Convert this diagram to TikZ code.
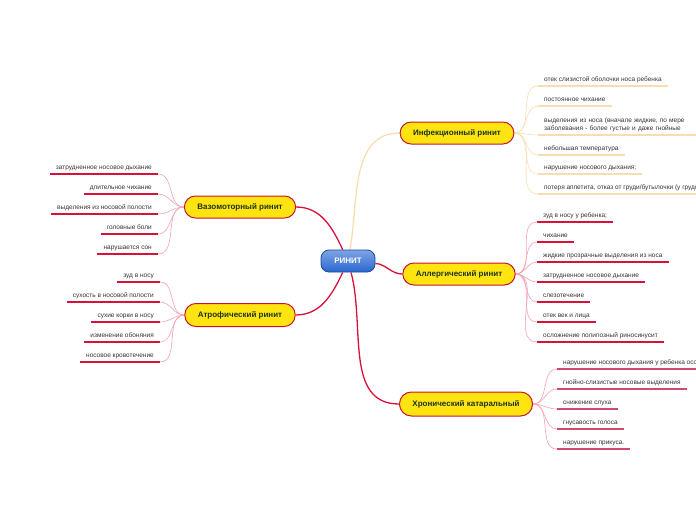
\documentclass[tikz,border=0pt]{standalone}
\usepackage{fontspec}
\setmainfont{Liberation Sans}
\usetikzlibrary{positioning,backgrounds}

\definecolor{rootblue}{HTML}{2A67D0}
\definecolor{rootedge}{HTML}{1A4AA0}
\definecolor{topicfill}{HTML}{FFE40F}
\definecolor{topicedge}{HTML}{C81232}
\definecolor{topictext}{HTML}{1C331C}
\definecolor{redline}{HTML}{D8103A}
\definecolor{pinkline}{HTML}{CF4A6C}
\definecolor{twigred}{HTML}{F2A2B4}
\definecolor{wheatline}{HTML}{F5DFB0}
\definecolor{leaftext}{HTML}{333333}

\begin{document}
\begin{tikzpicture}[x=1pt,y=-1pt,
		root/.style={rounded corners=8pt,draw=rootedge,line width=0.8pt,top color=rootblue!60!white,bottom color=rootblue,text=white,font=\fontsize{8}{9}\selectfont\bfseries,minimum width=54pt,minimum height=22pt},
		topic/.style={rounded corners=11pt,draw=topicedge,line width=1pt,fill=topicfill,text=topictext,font=\fontsize{8}{9}\selectfont\bfseries,inner xsep=13pt,minimum height=22pt},
		leafR/.style={anchor=south west,inner xsep=6pt,inner ysep=3pt,text height=4.6pt,text depth=1.4pt,text=leaftext,font=\fontsize{6.5}{8}\selectfont,align=left},
		leafL/.style={leafR,anchor=south east},
		link/.style={line width=1.3pt},
		twig/.style={line width=0.6pt},
		uline/.style={line width=1.8pt}]
	\useasboundingbox (0,0) rectangle (696,520);

	% centre and main topics
	\node[root] (root) at (348,261) {РИНИТ};
	\node[topic] (inf) at (457,133) {Инфекционный ринит};
	\node[topic] (all) at (459,274) {Аллергический ринит};
	\node[topic,minimum height=24pt,rounded corners=12pt] (chr) at (466,404) {Хронический катаральный};
	\node[topic] (vaso) at (240,207) {Вазомоторный ринит};
	\node[topic,minimum height=23pt] (atro) at (240,315) {Атрофический ринит};

	% Инфекционный ринит
	\node[leafR] (i1) at (538,86) {отек слизистой оболочки носа ребенка};
	\node[leafR] (i2) at (538,106) {постоянное чихание};
	\node[leafR,text width=158pt,text depth=9.4pt] (i3) at (538,135) {выделения из носа (вначале жидкие, по мере\\заболевания - более густые и даже гнойные};
	\node[leafR] (i4) at (538,155) {небольшая температура};
	\node[leafR] (i5) at (538,174) {нарушение носового дыхания;};
	\node[leafR] (i6) at (538,194) {потеря аппетита, отказ от груди/бутылочки (у грудн};

	% Аллергический ринит
	\node[leafR] (a1) at (537,222) {зуд в носу у ребенка;};
	\node[leafR] (a2) at (537,242) {чихание};
	\node[leafR] (a3) at (537,262) {жидкие прозрачные выделения из носа};
	\node[leafR] (a4) at (537,282) {затрудненное носовое дыхание};
	\node[leafR] (a5) at (537,302) {слезотечение};
	\node[leafR] (a6) at (537,322) {отек век и лица};
	\node[leafR] (a7) at (537,342) {осложнение полипозный риносинусит};

	% Хронический катаральный
	\node[leafR] (c1) at (557,369) {нарушение носового дыхания у ребенка осо};
	\node[leafR] (c2) at (557,389) {гнойно-слизистые носовые выделения};
	\node[leafR] (c3) at (557,409) {снижение слуха};
	\node[leafR] (c4) at (557,429) {гнусавость голоса};
	\node[leafR] (c5) at (557,449) {нарушение прикуса.};

	% Вазомоторный ринит
	\node[leafL] (v1) at (158,174) {затрудненное носовое дыхание};
	\node[leafL] (v2) at (158,194) {длительное чихание};
	\node[leafL] (v3) at (158,214) {выделения из носовой полости};
	\node[leafL] (v4) at (158,234) {головные боли};
	\node[leafL] (v5) at (158,254) {нарушается сон};

	% Атрофический ринит
	\node[leafL] (t1) at (160,282) {зуд в носу};
	\node[leafL] (t2) at (160,302) {сухость в носовой полости};
	\node[leafL] (t3) at (160,322) {сухие корки в носу};
	\node[leafL] (t4) at (160,342) {изменение обоняния};
	\node[leafL] (t5) at (160,362) {носовое кровотечение};

	\begin{scope}[on background layer]
		\path[link]
			(root) edge[draw=wheatline,out=80,in=180] (inf.west)
			(root) edge[draw=redline,out=-5,in=180] (all.west)
			(root) edge[draw=redline,out=-75,in=180] (chr.west)
			(root) edge[draw=redline,out=115,in=0] (vaso.east)
			(root) edge[draw=redline,out=-115,in=0] (atro.east);
		\foreach \n in {i1,i2,i3,i4,i5,i6}
			\path (inf.east) edge[twig,draw=wheatline,out=0,in=180] (\n.south west)
				(\n.south west) edge[uline,line width=1.3pt,draw=wheatline] (\n.south east);
		\foreach \n in {a1,a2,a3,a4,a5,a6,a7}
			\path (all.east) edge[twig,draw=twigred,out=0,in=180] (\n.south west)
				(\n.south west) edge[uline,draw=redline] (\n.south east);
		\foreach \n in {c1,c2,c3,c4,c5}
			\path (chr.east) edge[twig,draw=twigred,out=0,in=180] (\n.south west)
				(\n.south west) edge[uline,draw=pinkline] (\n.south east);
		\foreach \n in {v1,v2,v3,v4,v5}
			\path (vaso.west) edge[twig,draw=twigred,out=180,in=0] (\n.south east)
				(\n.south east) edge[uline,draw=redline] (\n.south west);
		\foreach \n in {t1,t2,t3,t4,t5}
			\path (atro.west) edge[twig,draw=twigred,out=180,in=0] (\n.south east)
				(\n.south east) edge[uline,draw=redline] (\n.south west);
	\end{scope}
\end{tikzpicture}
\end{document}
